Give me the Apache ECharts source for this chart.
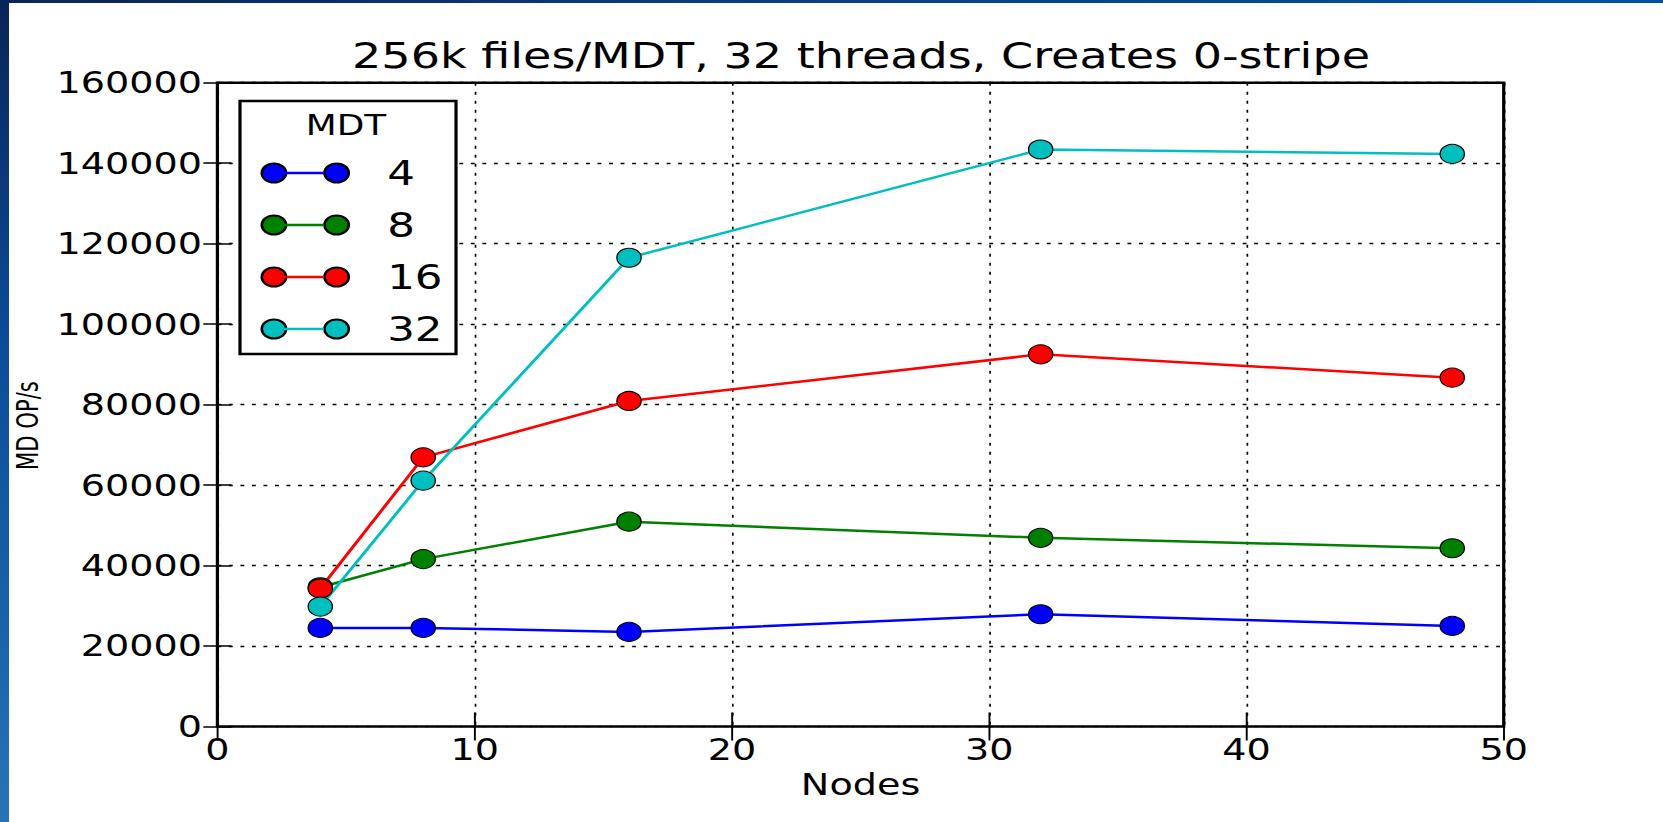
<!DOCTYPE html>
<html>
<head>
<meta charset="utf-8">
<title>256k files/MDT, 32 threads, Creates 0-stripe</title>
<script src="https://cdn.jsdelivr.net/npm/echarts@6/dist/echarts.min.js"></script>
<style>
  html, body { margin: 0; padding: 0; background: #fff; overflow: hidden; }
  #frame-top {
    position: absolute; left: 0; top: 0; width: 1663px; height: 3px; z-index: 2;
    background: linear-gradient(to right, #0a2458, #0b3f86 50%, #00519f);
  }
  #frame-left {
    position: absolute; left: 0; top: 0; width: 9px; height: 822px; z-index: 2;
    background: linear-gradient(to bottom, #0a2458, #0b4a98 40%, #1d64ad 80%, #2a72b8);
  }
  #chart { position: absolute; left: 0; top: 0; height: 822px; transform-origin: 0 0; }
</style>
</head>
<body>
<div id="chart"></div>
<div id="frame-top"></div>
<div id="frame-left"></div>
<script>
// data
const nodes = [4, 8, 16, 32, 48]
const mdtCounts = ['4', '8', '16', '32']
const ops4 = [24500, 24500, 23500, 27900, 25000]
const ops8 = [34600, 41600, 50900, 46900, 44300]
const ops16 = [34300, 66900, 80900, 92500, 86700]
const ops32 = [29800, 61100, 116500, 143400, 142300]
const seriesValues = [ops4, ops8, ops16, ops32]
const colors = ['#0000ff', '#008000', '#ff0000', '#00bfbf']

// the original figure is stretched sideways, so draw narrow and scale the div
const STRETCH = 1.28
const FULL_W = 1663
const W = FULL_W / STRETCH
const sx = v => v / STRETCH

const dom = document.getElementById('chart')
dom.style.width = W + 'px'
dom.style.transform = 'scaleX(' + STRETCH + ')'

const chart = echarts.init(dom, null, { renderer: 'svg' })

const font = 'DejaVu Sans'
const tickFont = 29.8
const twoDots = 'path://M0,9.5a9.5,9.5 0 1,0 19,0a9.5,9.5 0 1,0 -19,0ZM49,9.5a9.5,9.5 0 1,0 19,0a9.5,9.5 0 1,0 -19,0Z'

chart.setOption({
  animation: false,
  title: [
    {
      text: '256k files/MDT, 32 threads, Creates 0-stripe',
      left: sx(861),
      top: 38,
      textAlign: 'center',
      padding: 0,
      textStyle: { fontSize: 36, fontWeight: 'normal', fontFamily: font, color: '#000' }
    },
    {
      text: 'MDT',
      left: sx(346),
      top: 111,
      textAlign: 'center',
      padding: 0,
      z: 7,
      textStyle: { fontSize: 28, fontWeight: 'normal', fontFamily: font, color: '#000' }
    }
  ],
  grid: {
    show: true,
    left: sx(217.4),
    right: W - sx(1504),
    top: 82.7,
    bottom: 822 - 726.5,
    borderColor: '#000',
    borderWidth: 2.5,
    backgroundColor: 'transparent'
  },
  legend: [
    {
      // boxed legend with the markers and labels
      orient: 'vertical',
      left: sx(240),
      top: 101,
      padding: [55, 10.5, 8, 16],
      itemGap: 18,
      itemWidth: 68,
      itemHeight: 19,
      icon: twoDots,
      selectedMode: false,
      borderColor: '#000',
      borderWidth: 2.5,
      borderRadius: 0,
      backgroundColor: '#fff',
      z: 5,
      textStyle: { fontSize: 34, lineHeight: 34, color: '#000', fontFamily: font, padding: [0, 0, 0, 25] },
      data: mdtCounts
    },
    {
      // the short line joining the two markers
      orient: 'vertical',
      left: sx(283),
      top: 156,
      padding: 0,
      itemGap: 18,
      itemWidth: sx(324) - sx(283),
      itemHeight: 2.5,
      icon: 'rect',
      selectedMode: false,
      z: 6,
      itemStyle: { borderWidth: 0 },
      textStyle: { fontSize: 34, lineHeight: 34, color: 'rgba(0,0,0,0)', fontFamily: font },
      data: mdtCounts
    }
  ],
  xAxis: [
    {
      type: 'value',
      min: 0,
      max: 50,
      interval: 10,
      position: 'bottom',
      name: 'Nodes',
      nameLocation: 'middle',
      nameGap: 43,
      nameTextStyle: { fontSize: tickFont, fontFamily: font, color: '#000' },
      axisLine: { show: false },
      axisTick: { show: true, inside: true, length: 14, lineStyle: { color: '#000', width: 1.5 } },
      axisLabel: { fontSize: tickFont, fontFamily: font, color: '#000', margin: 8 },
      splitLine: { show: true, lineStyle: { color: '#000', width: 1.3, type: [3, 6] } }
    },
    {
      type: 'value',
      min: 0,
      max: 50,
      interval: 10,
      position: 'top',
      axisLine: { show: false },
      axisTick: { show: true, inside: true, length: 14, lineStyle: { color: '#000', width: 1.5 } },
      axisLabel: { show: false },
      splitLine: { show: false }
    }
  ],
  yAxis: [
    {
      type: 'value',
      min: 0,
      max: 160000,
      interval: 20000,
      position: 'left',
      name: 'MD OP/s',
      nameLocation: 'middle',
      nameGap: 136,
      nameTextStyle: {
        fontSize: 23.5,
        fontFamily: "'Liberation Sans Narrow', 'DejaVu Sans Condensed', 'Liberation Sans', sans-serif",
        color: '#000',
        padding: [0, 42, 0, 0]
      },
      axisLine: { show: false },
      axisTick: { show: true, inside: true, length: 11, lineStyle: { color: '#000', width: 1.5 } },
      axisLabel: { fontSize: tickFont, fontFamily: font, color: '#000', margin: 12, formatter: v => String(v) },
      splitLine: { show: true, lineStyle: { color: '#000', width: 1.3, type: [3, 6] } }
    },
    {
      type: 'value',
      min: 0,
      max: 160000,
      interval: 20000,
      position: 'right',
      axisLine: { show: false },
      axisTick: { show: true, inside: true, length: 11, lineStyle: { color: '#000', width: 1.5 } },
      axisLabel: { show: false },
      splitLine: { show: false }
    }
  ],
  series: mdtCounts.map((name, i) => ({
    name: name,
    type: 'line',
    xAxisIndex: 0,
    yAxisIndex: 0,
    data: nodes.map((n, j) => [n, seriesValues[i][j]]),
    symbol: 'circle',
    symbolSize: 19,
    color: colors[i],
    lineStyle: { width: 2.5, color: colors[i] },
    itemStyle: { color: colors[i], borderColor: '#000', borderWidth: 1 },
    emphasis: { disabled: true }
  }))
})
</script>
</body>
</html>
